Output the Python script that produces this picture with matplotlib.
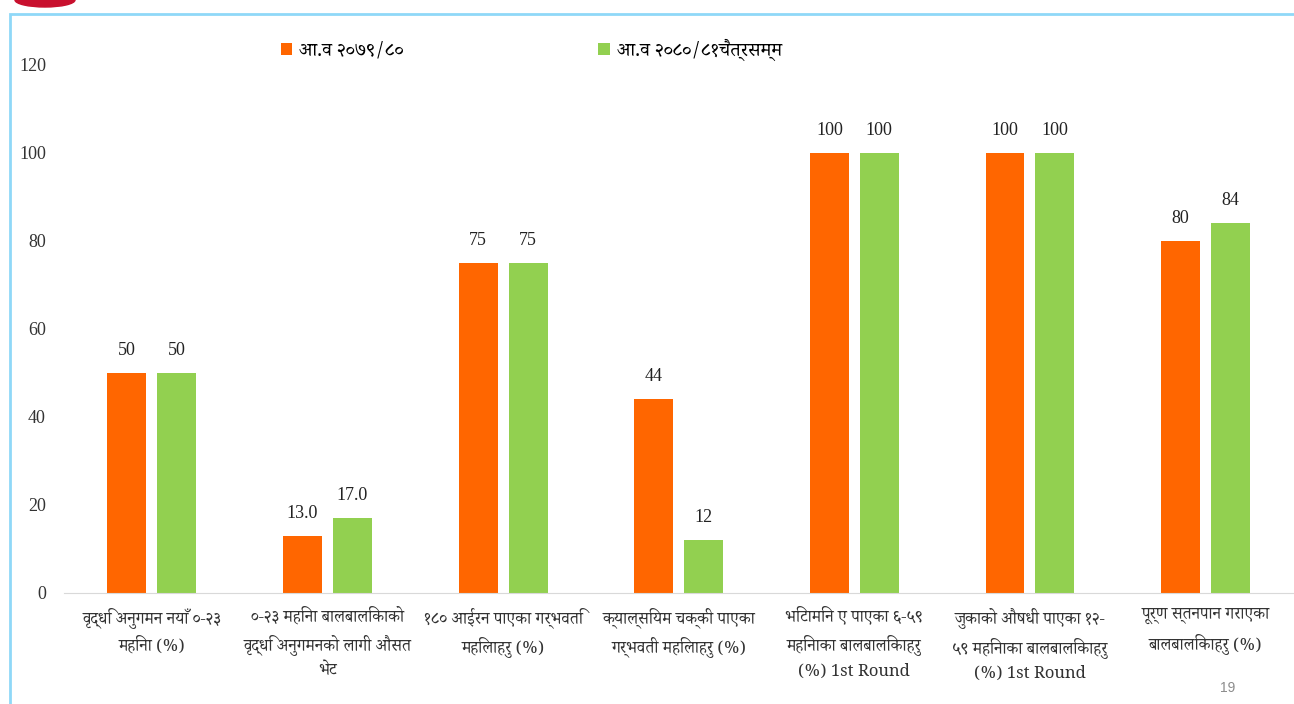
import matplotlib
matplotlib.use('Agg')
import matplotlib.pyplot as plt
from matplotlib import font_manager
from matplotlib.patches import Rectangle, Ellipse
import numpy as np

# data
categories = ['वृद्धि अनुगमन नयाँ ०-२३\nमहिना (%)',
              '०-२३ महिना बालबालिकाको\nवृद्धि अनुगमनको लागी औसत\nभेट',
              '१८० आईरन पाएका गर्भवति\nमहिलाहरु (%)',
              'क्याल्सियम चक्की पाएका\nगर्भवती महिलाहरु (%)',
              'भिटामिन ए पाएका ६-५९\nमहिनाका बालबालिकाहरु\n(%) 1st Round',
              'जुकाको औषधी पाएका १२-\n५९ महिनाका बालबालिकाहरु\n(%) 1st Round',
              'पूर्ण स्तनपान गराएका\nबालबालिकाहरु (%)']
fy_7980 = [50, 13.0, 75, 44, 100, 100, 80]
fy_8081 = [50, 17.0, 75, 12, 100, 100, 84]
labels_7980 = ['50', '13.0', '75', '44', '100', '100', '80']
labels_8081 = ['50', '17.0', '75', '12', '100', '100', '84']
series_names = ['आ.व २०७९/८०', 'आ.व २०८०/८१चैत्रसम्म']
yticks = [0, 20, 40, 60, 80, 100, 120]


def find_deva():
    # all installed fonts with devanagari glyphs, best looking first
    try:
        from fontTools.ttLib import TTFont
    except ImportError:
        return []
    found = []
    for path in sorted(font_manager.findSystemFonts()):
        try:
            f = TTFont(path, fontNumber=0, lazy=True)
            cmap = f.getBestCmap()
            if cmap and 0x0915 in cmap and 0x0967 in cmap:
                font_manager.fontManager.addfont(path)
                found.append(font_manager.FontProperties(fname=path).get_name())
        except Exception:
            pass
    prefs = ['Noto Serif Devanagari', 'Noto Sans Devanagari', 'Lohit', 'FreeSerif',
             'FreeSans', 'Mukta', 'Hind', 'Kalimati', 'Gargi', 'Sarai']

    def rank(n):
        for i, p in enumerate(prefs):
            if p.lower() in n.lower():
                return i
        return 50 + ('mono' in n.lower()) * 10
    return sorted(set(found), key=rank)


deva_all = find_deva()
deva = deva_all[0] if deva_all else None
fam = ([deva] if deva else []) + ['Liberation Serif', 'DejaVu Sans']
plt.rcParams['font.family'] = fam

fig = plt.figure(figsize=(12.94, 7.04), dpi=100)
ax = fig.add_axes([0.0495, 0.1577, 0.950, 0.750])

x = np.arange(len(categories))
w = 0.222
off = 0.142
b1 = ax.bar(x - off, fy_7980, w, color='#FF6600', label=series_names[0])
b2 = ax.bar(x + off, fy_8081, w, color='#92D050', label=series_names[1])
ax.bar_label(b1, labels=labels_7980, padding=10, fontsize=13,
             family='Liberation Serif', color='#222222')
ax.bar_label(b2, labels=labels_8081, padding=10, fontsize=13,
             family='Liberation Serif', color='#222222')

ax.set_xlim(-0.5, 6.5)
ax.set_ylim(0, 120)
ax.set_yticks(yticks)
ax.set_yticklabels([str(t) for t in yticks], family='Liberation Serif',
                   fontsize=13, color='#333333')
ax.set_xticks(x)
ax.set_xticklabels(categories, fontsize=12, linespacing=1.55, color='#333333')
ax.tick_params(axis='both', length=0)
ax.tick_params(axis='y', pad=13)
ax.tick_params(axis='x', pad=10)
for s in ['top', 'right', 'left']:
    ax.spines[s].set_visible(False)
ax.spines['bottom'].set_color('#D9D9D9')

ax.legend(loc='upper left', bbox_to_anchor=(0.17, 1.065), ncol=2, frameon=False,
          fontsize=14, handlelength=0.6, handleheight=0.6, handletextpad=0.35,
          columnspacing=10, borderaxespad=0)

# slide frame
fig.patches.append(Rectangle((10 / 1294, -0.05), 1.2, 1.05 - 14 / 704,
                             transform=fig.transFigure, fill=False,
                             edgecolor='#8FD8F8', linewidth=2))
fig.patches.append(Ellipse((45 / 1294, 1.0), 60 / 1294, 14 / 704,
                           transform=fig.transFigure, color='#C8102E'))
fig.text(1228 / 1294, 1 - 688 / 704, '19', fontsize=10, color='#8C8C8C',
         ha='center', va='center', family='Liberation Sans')

fig.savefig('out.png', dpi=100)
